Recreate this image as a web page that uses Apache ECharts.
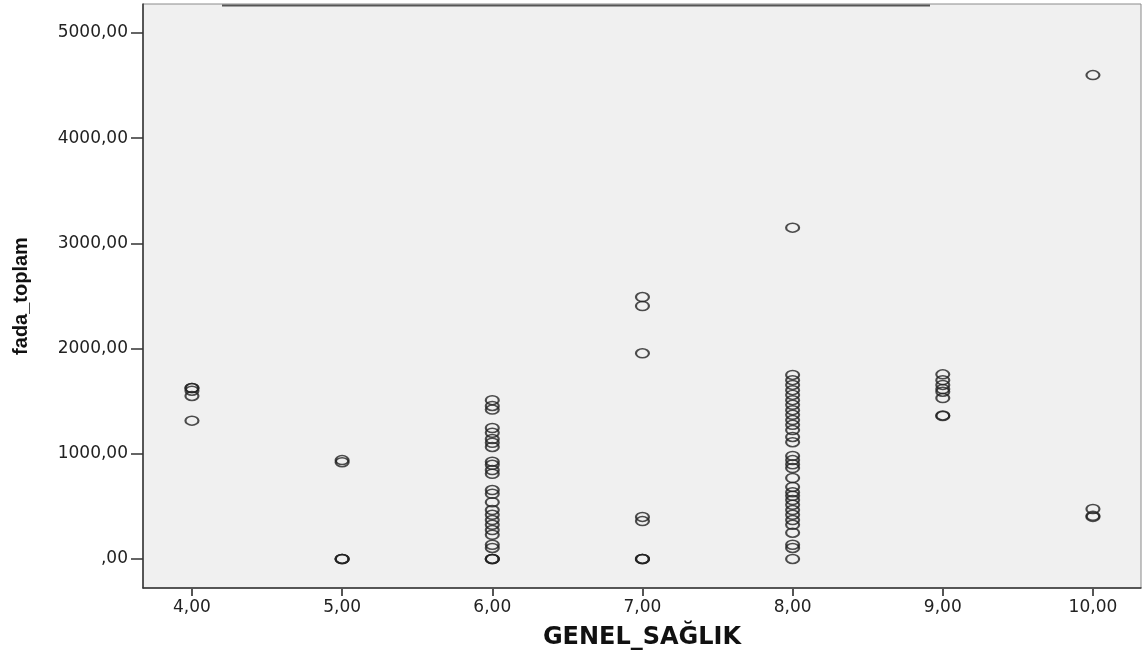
<!DOCTYPE html>
<html>
<head>
<meta charset="utf-8">
<script src="https://cdn.jsdelivr.net/npm/echarts@6/dist/echarts.min.js"></script>
<style>
  html, body { margin: 0; padding: 0; background: #fff; }
  #chart { width: 1145px; height: 658px; }
</style>
</head>
<body>
<div id="chart"></div>
<script>
// GENEL_SAĞLIK (x) ve fada_toplam (y) değerleri, gruplara göre
const xTicks = [4, 5, 6, 7, 8, 9, 10]
const yTicks = [0, 1000, 2000, 3000, 4000, 5000]

const g4 = [1625, 1625, 1600, 1550, 1315]
const g5 = [940, 920, 0, 0, 0]
const g6 = [1510, 1455, 1420, 1245, 1200, 1140, 1105, 1065, 925, 895, 845, 810,
  655, 620, 540, 465, 420, 370, 325, 275, 230, 135, 105, 0, 0, 0]
const g7 = [2490, 2405, 1955, 400, 360, 0, 0, 0]
const g8 = [3150, 1750, 1700, 1655, 1605, 1560, 1510, 1465, 1415, 1370, 1320, 1275,
  1225, 1160, 1110, 980, 940, 900, 865, 770, 685, 635, 600, 560, 515, 465, 420,
  370, 325, 250, 135, 105, 0]
const g9 = [1755, 1700, 1655, 1615, 1590, 1530, 1365, 1360]
const g10 = [4600, 475, 410, 400]

const groups = [[4, g4], [5, g5], [6, g6], [7, g7], [8, g8], [9, g9], [10, g10]]
const points = []
groups.forEach(([x, vals]) => {
  vals.forEach(v => points.push([x, v]))
})

const fmt = v => (v === 0 ? ',00' : v.toFixed(2).replace('.', ','))

const chart = echarts.init(document.getElementById('chart'))

chart.setOption({
  animation: false,
  backgroundColor: '#ffffff',
  grid: {
    left: 143,
    right: 4,
    top: 4,
    bottom: 70,
    show: true,
    backgroundColor: '#f0f0f0',
    borderColor: '#8a8a8a',
    borderWidth: 1
  },
  xAxis: {
    type: 'value',
    min: 3.674,
    max: 10.32,
    name: 'GENEL_SAĞLIK',
    nameLocation: 'middle',
    nameGap: 38,
    nameTextStyle: {
      fontFamily: 'DejaVu Sans',
      fontWeight: 'bold',
      fontSize: 24,
      color: '#111'
    },
    splitLine: { show: false },
    axisLine: { onZero: false, lineStyle: { color: '#333', width: 1.5 } },
    axisTick: {
      customValues: xTicks,
      length: 8,
      lineStyle: { color: '#555', width: 2 }
    },
    axisLabel: {
      customValues: xTicks,
      formatter: fmt,
      margin: 11,
      fontFamily: 'DejaVu Sans',
      fontSize: 17,
      color: '#222'
    }
  },
  yAxis: {
    type: 'value',
    min: -276,
    max: 5276,
    name: 'fada_toplam',
    nameLocation: 'middle',
    nameGap: 112,
    nameTextStyle: {
      fontFamily: 'Liberation Sans',
      fontWeight: 'bold',
      fontSize: 20,
      color: '#111'
    },
    splitLine: { show: false },
    axisLine: { onZero: false, lineStyle: { color: '#333', width: 1.5 } },
    axisTick: {
      customValues: yTicks,
      length: 12,
      lineStyle: { color: '#333', width: 1.5 }
    },
    axisLabel: {
      customValues: yTicks,
      formatter: fmt,
      margin: 15,
      fontFamily: 'DejaVu Sans',
      fontSize: 17,
      color: '#222'
    }
  },
  series: [{
    type: 'scatter',
    data: points,
    symbol: 'circle',
    symbolSize: [13, 9],
    itemStyle: {
      color: 'rgba(0,0,0,0)',
      borderColor: '#222',
      borderWidth: 1.8
    }
  }],
  graphic: [{
    type: 'line',
    shape: { x1: 222, y1: 5.5, x2: 930, y2: 5.5 },
    style: { stroke: '#555', lineWidth: 2 },
    z: 100
  }]
})
</script>
</body>
</html>
